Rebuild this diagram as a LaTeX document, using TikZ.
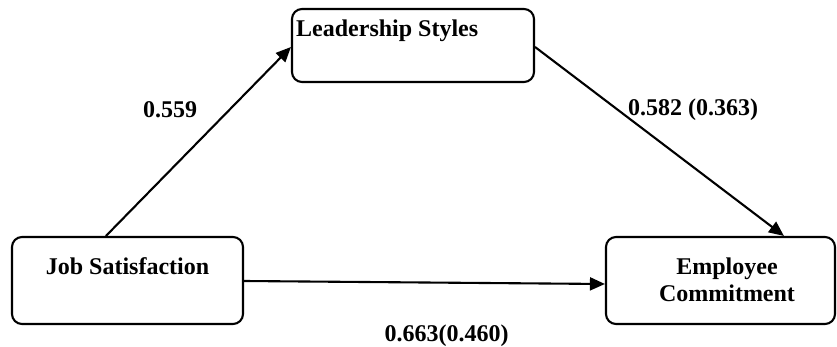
\documentclass[tikz,border=0pt]{standalone}
\usepackage{fontspec}
\setmainfont{Liberation Serif}
\usetikzlibrary{arrows.meta}
\begin{document}
\begin{tikzpicture}[x=1pt,y=-1pt,
  box/.style={draw=black, line width=2.1pt, rounded corners=10pt, inner sep=0pt},
  txt/.style={font=\fontsize{24}{27}\selectfont\bfseries, inner sep=0pt, align=center},
  arr/.style={line width=2.1pt, -{Triangle[length=15pt,width=13pt]}}]
\useasboundingbox (0,0) rectangle (837,347);
% boxes
\node[box, minimum width=242pt, minimum height=73pt] (lead) at (413,45.5) {};
\node[box, minimum width=231pt, minimum height=87pt] (job) at (127.5,280.5) {};
\node[box, minimum width=229pt, minimum height=87pt] (emp) at (720.5,280.5) {};
% box texts
\node[txt, anchor=base west] (leadtxt) at (296,37) {Leadership Styles};
\node[txt, anchor=base] (jobtxt) at (127.5,274) {Job Satisfaction};
\node[txt, anchor=base] (emptxt1) at (727,274) {Employee};
\node[txt, anchor=base] (emptxt2) at (727,301) {Commitment};
% paths
\draw[arr] ([xshift=95pt]job.north west) -- ([yshift=-1.5pt]lead.west);
\draw[arr] ([yshift=-1.5pt]lead.east) -- ([xshift=179pt]emp.north west);
\draw[arr] ([yshift=-0.5pt]job.east) -- ([yshift=-3.5pt]emp.west);
% coefficients
\node[txt, anchor=base] (c1) at (170,118) {0.559};
\node[txt, anchor=base] (c2) at (693,116) {0.582 (0.363)};
\node[txt, anchor=base] (c3) at (446.5,341) {0.663(0.460)};
\end{tikzpicture}
\end{document}
